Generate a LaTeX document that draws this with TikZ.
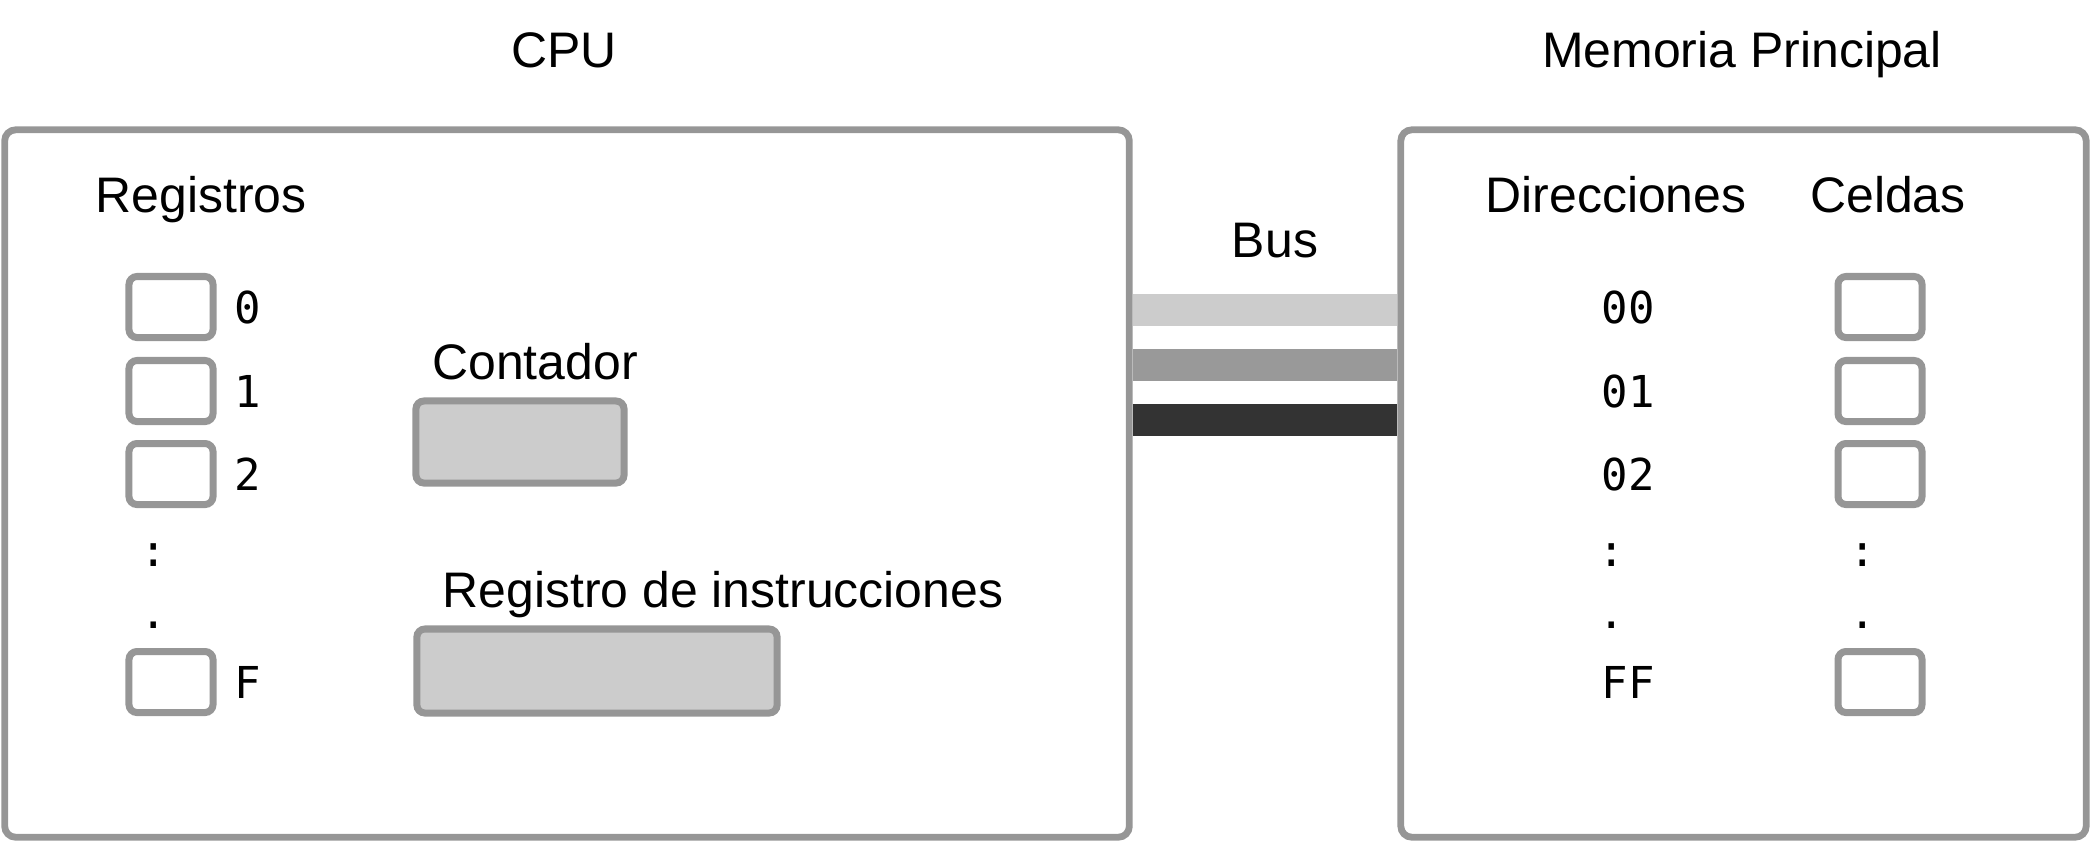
\documentclass[tikz,border=0pt]{standalone}
\usepackage{fontspec}
\setmainfont{Liberation Sans}
\newfontfamily\monof{DejaVu Sans Mono}
\usetikzlibrary{backgrounds}
\definecolor{boxgray}{HTML}{969696}
\definecolor{fillgray}{HTML}{CCCCCC}
\definecolor{busmid}{HTML}{999999}
\definecolor{busdark}{HTML}{333333}
\begin{document}
\begin{tikzpicture}[x=0.01cm,y=-0.01cm,
 lbl/.style={font=\fontsize{14.2}{17}\selectfont, anchor=base, inner sep=0pt},
 mono/.style={font=\monof\fontsize{12.5}{15}\selectfont, anchor=base, inner sep=0pt},
 bigbox/.style={draw=boxgray, line width=0.068cm, rounded corners=0.11cm, inner sep=0pt},
 cell/.style={draw=boxgray, fill=white, line width=0.07cm, rounded corners=0.08cm, minimum width=0.84cm, minimum height=0.61cm, inner sep=0pt},
 filled/.style={draw=boxgray, fill=fillgray, line width=0.07cm, rounded corners=0.08cm, inner sep=0pt},
 bus/.style={line width=0.32cm}]
\useasboundingbox (0,0) rectangle (2091,841);
% main boxes
\node[bigbox, minimum width=11.24cm, minimum height=7.07cm] (cpu) at (567,483.5) {};
\node[bigbox, minimum width=6.85cm, minimum height=7.07cm] (mem) at (1743.5,483.5) {};
% titles
\node[lbl] (tcpu) at (564,67) {CPU};
\node[lbl] (tmem) at (1742,67) {Memoria Principal};
% registers
\node[lbl] (treg) at (201,212) {Registros};
\node[cell] (r0) at (171,307) {};
\node[cell] (r1) at (171,391) {};
\node[cell] (r2) at (171,474) {};
\node[cell] (rF) at (171,682) {};
\node[mono] (l0) at (248,323) {0};
\node[mono] (l1) at (248,407) {1};
\node[mono] (l2) at (248,490) {2};
\node[mono] (lF) at (248,698) {F};
\node[mono] (rd1) at (154,566) {:};
\node[mono] (rd2) at (154,628) {.};
% counter and instruction register
\node[lbl] (tcont) at (535,379) {Contador};
\node[filled, minimum width=2.08cm, minimum height=0.82cm] (cont) at (520,442) {};
\node[lbl] (tir) at (723,607) {Registro de instrucciones};
\node[filled, minimum width=3.60cm, minimum height=0.84cm] (ir) at (597,671) {};
% bus
\node[lbl] (tbus) at (1275,257) {Bus};
\coordinate (y1) at (0,310);
\coordinate (y2) at (0,365);
\coordinate (y3) at (0,420);
\begin{scope}[on background layer]
\draw[bus, fillgray] (cpu.east |- y1) -- (mem.west |- y1);
\draw[bus, busmid] (cpu.east |- y2) -- (mem.west |- y2);
\draw[bus, busdark] (cpu.east |- y3) -- (mem.west |- y3);
\end{scope}
% memory
\node[lbl] (tdir) at (1616,212) {Direcciones};
\node[lbl] (tcel) at (1888,212) {Celdas};
\node[mono] (a0) at (1628,323) {00};
\node[mono] (a1) at (1628,407) {01};
\node[mono] (a2) at (1628,490) {02};
\node[mono] (aF) at (1628,698) {FF};
\node[mono] (ad1) at (1612,566) {:};
\node[mono] (ad2) at (1612,628) {.};
\node[cell] (c0) at (1880,307) {};
\node[cell] (c1) at (1880,391) {};
\node[cell] (c2) at (1880,474) {};
\node[cell] (cF) at (1880,682) {};
\node[mono] (cd1) at (1863,566) {:};
\node[mono] (cd2) at (1863,628) {.};
\end{tikzpicture}
\end{document}
